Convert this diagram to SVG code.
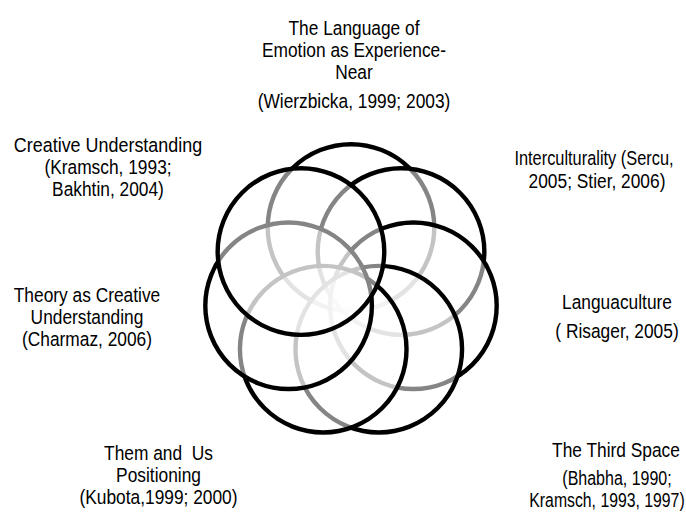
<svg xmlns="http://www.w3.org/2000/svg" width="686" height="513" viewBox="0 0 686 513">
<style>
.ring{fill:#fff;fill-opacity:0.52;stroke:#000;stroke-width:4.4}
.lbl{font-family:"Liberation Sans",Arial,Helvetica,sans-serif;font-size:19.5px;fill:#000;text-anchor:middle;white-space:pre}
</style>
<rect width="686" height="513" fill="#fff"/>
<g id="connectors"/>
<g id="node-emotion">
<circle class="ring" cx="351" cy="227.5" r="83.3"/>
<text class="lbl" transform="translate(354,35) scale(0.89,1)">The Language of</text>
<text class="lbl" transform="translate(354,57) scale(0.89,1)">Emotion as Experience-</text>
<text class="lbl" transform="translate(354,79) scale(0.89,1)">Near</text>
<text class="lbl" transform="translate(354,108) scale(0.89,1)">(Wierzbicka, 1999; 2003)</text>
</g>
<g id="node-interculturality">
<circle class="ring" cx="401.04" cy="251.6" r="83.3"/>
<text class="lbl" transform="translate(594,165) scale(0.84,1)">Interculturality (Sercu,</text>
<text class="lbl" transform="translate(597,188) scale(0.89,1)">2005; Stier, 2006)</text>
</g>
<g id="node-languaculture">
<circle class="ring" cx="413.4" cy="305.74" r="83.3"/>
<text class="lbl" transform="translate(617,309) scale(0.89,1)">Languaculture</text>
<text class="lbl" transform="translate(617,338) scale(0.89,1)">( Risager, 2005)</text>
</g>
<g id="node-third-space">
<circle class="ring" cx="378.77" cy="349.16" r="83.3"/>
<text class="lbl" transform="translate(616,457) scale(0.89,1)">The Third Space</text>
<text class="lbl" transform="translate(617,485) scale(0.82,1)">(Bhabha, 1990;</text>
<text class="lbl" transform="translate(607,507) scale(0.81,1)">Kramsch, 1993, 1997)</text>
</g>
<g id="node-them-us">
<circle class="ring" cx="323.23" cy="349.16" r="83.3"/>
<text class="lbl" transform="translate(158.5,460) scale(0.89,1)">Them and  Us</text>
<text class="lbl" transform="translate(158.5,482) scale(0.89,1)">Positioning</text>
<text class="lbl" transform="translate(158.5,504) scale(0.89,1)">(Kubota,1999; 2000)</text>
</g>
<g id="node-theory">
<circle class="ring" cx="288.6" cy="305.74" r="83.3"/>
<text class="lbl" transform="translate(87,302) scale(0.89,1)">Theory as Creative</text>
<text class="lbl" transform="translate(87,324) scale(0.89,1)">Understanding</text>
<text class="lbl" transform="translate(87,346) scale(0.89,1)">(Charmaz, 2006)</text>
</g>
<g id="node-creative">
<circle class="ring" cx="300.96" cy="251.6" r="83.3"/>
<text class="lbl" transform="translate(108,152) scale(0.92,1)">Creative Understanding</text>
<text class="lbl" transform="translate(108,174) scale(0.89,1)">(Kramsch, 1993;</text>
<text class="lbl" transform="translate(108,196) scale(0.89,1)">Bakhtin, 2004)</text>
</g>
</svg>
